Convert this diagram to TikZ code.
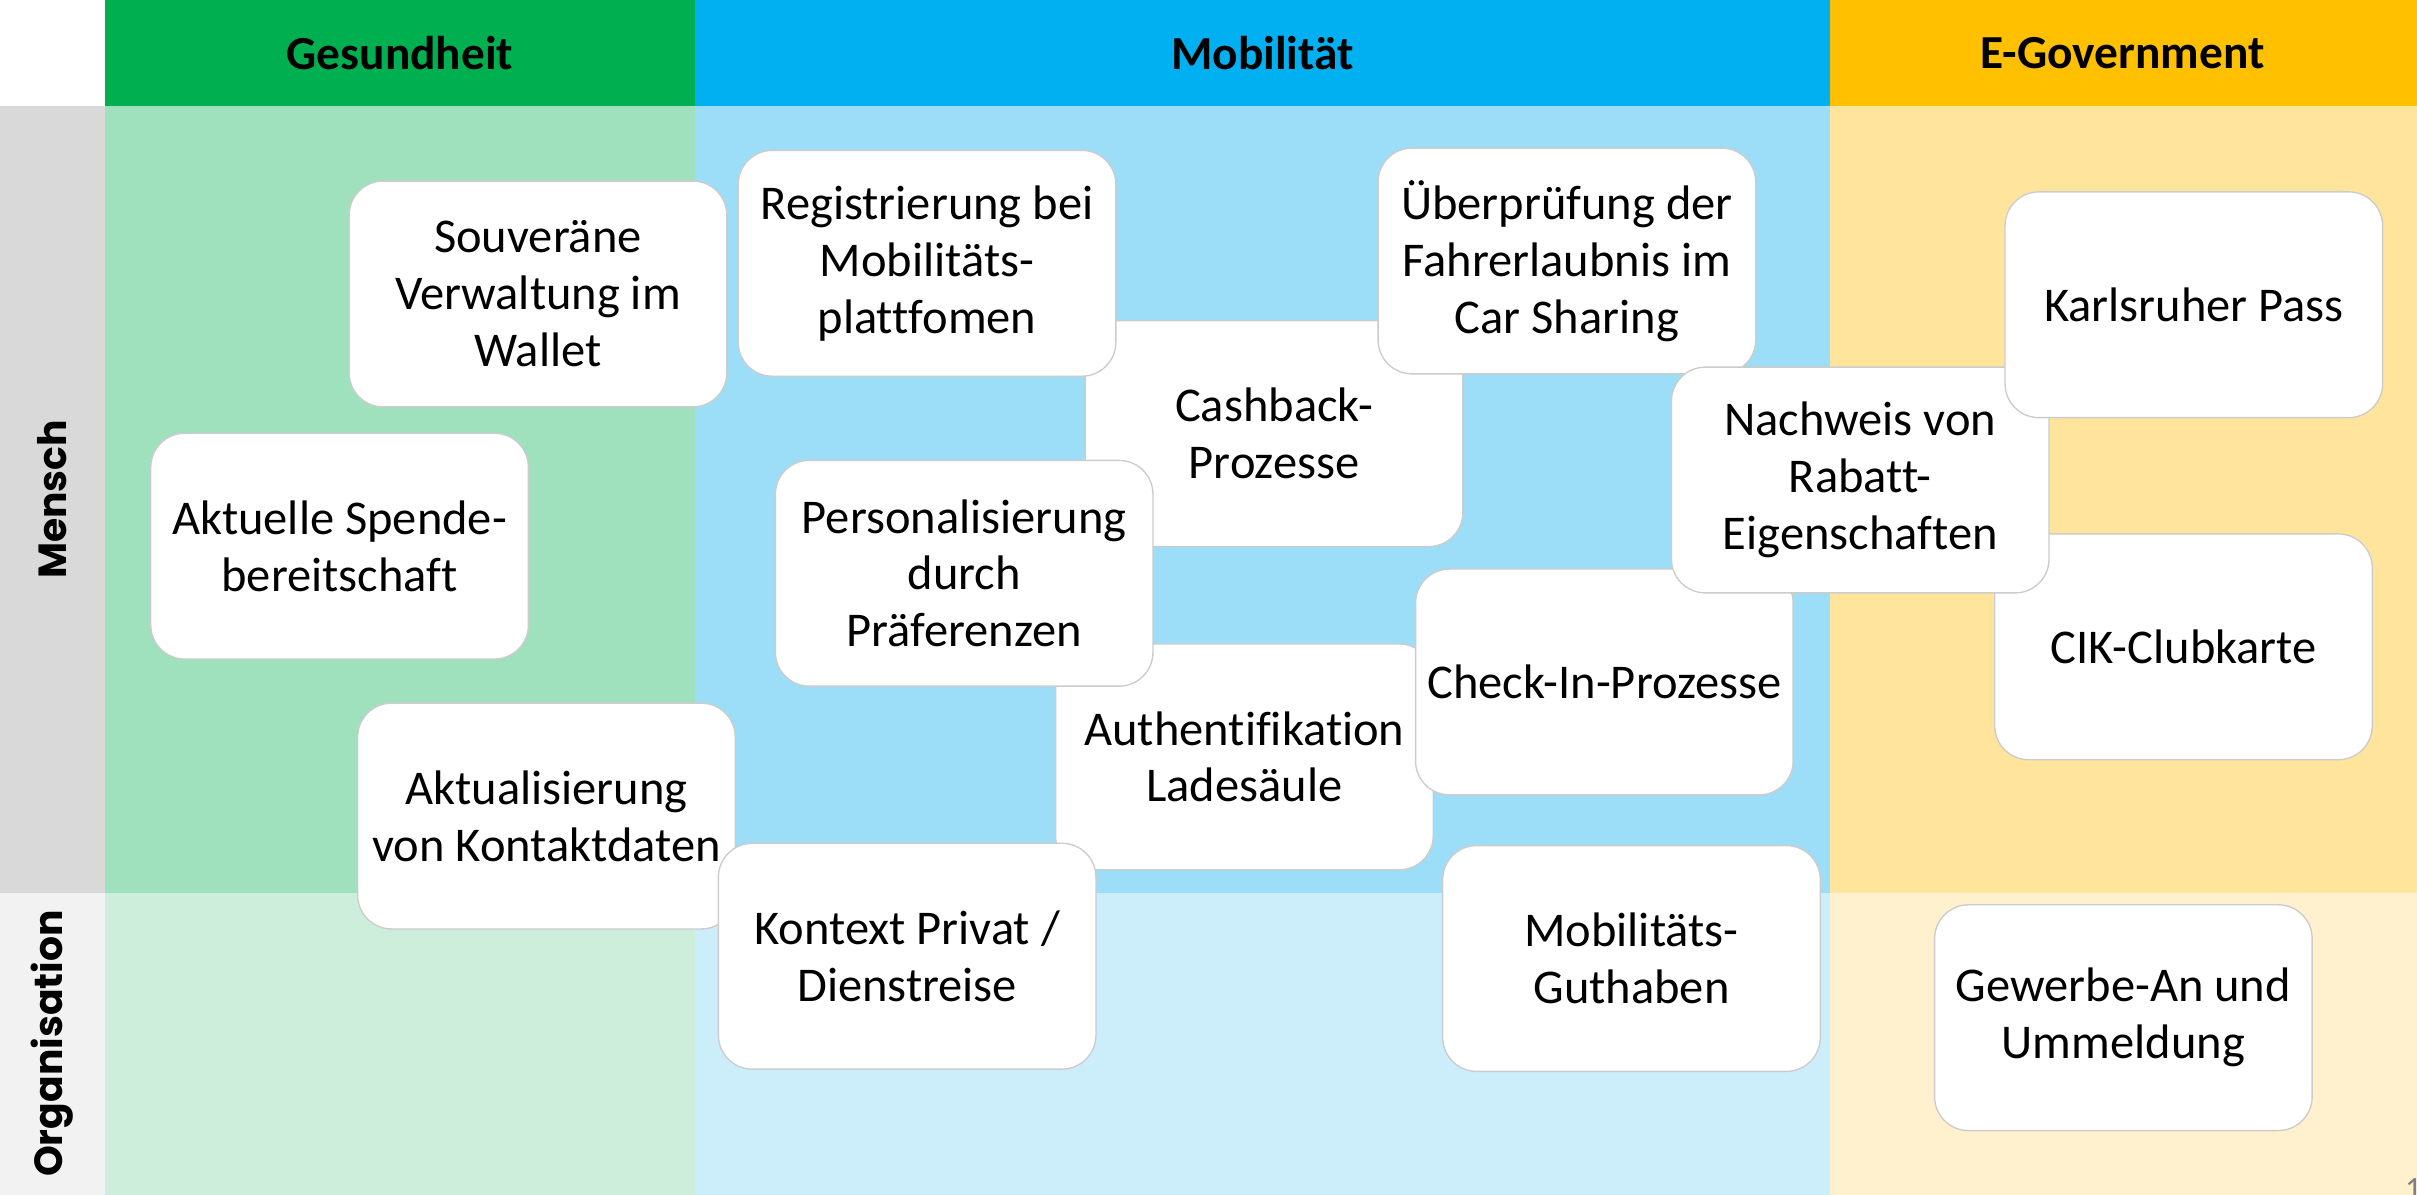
\documentclass[tikz,border=0pt]{standalone}
\usepackage{fontspec}
\setmainfont{Carlito}[Ligatures={TeX,NoCommon}]
\newfontfamily\rowfont{Poppins}
\usepackage{tikz}
\usepackage{xcolor}
\definecolor{gesHead}{HTML}{00B050}
\definecolor{mobHead}{HTML}{00B0F0}
\definecolor{govHead}{HTML}{FFC000}
\definecolor{gesMensch}{HTML}{9FE0BD}
\definecolor{mobMensch}{HTML}{9CDEF8}
\definecolor{govMensch}{HTML}{FFE59B}
\definecolor{gesOrga}{HTML}{CEEEDC}
\definecolor{mobOrga}{HTML}{CCEDFA}
\definecolor{govOrga}{HTML}{FFF1CD}
\definecolor{menschLabel}{HTML}{D9D9D9}
\definecolor{orgaLabel}{HTML}{F2F2F2}
\tikzset{%
	usecase/.style={
		rectangle,
		rounded corners=0.44cm,
		draw=black!20,
		line width=0.5pt,
		fill=white,
		minimum width=4.9cm,
		minimum height=2.93cm,
		align=center,
		font=\fontsize{17.9}{21}\selectfont
	},
	header/.style={
		font=\fontsize{17.5}{21}\selectfont\bfseries
	},
	rowlabel/.style={
		rotate=90,
		font=\rowfont\fontsize{14.5}{17}\selectfont\bfseries
	},
}

\begin{document}
\begin{tikzpicture}[x=0.02cm, y=-0.02cm]
	\useasboundingbox (0,0) rectangle (1568,775);
	\clip (0,0) rectangle (1568,775);
	
	% Kopfzeile
	\fill[white] (0,0) rectangle (68,69);
	\fill[gesHead] (68,0) rectangle (451,69);
	\fill[mobHead] (451,0) rectangle (1187,69);
	\fill[govHead] (1187,0) rectangle (1568,69);
	% Zeile Mensch
	\fill[menschLabel] (0,69) rectangle (68,579);
	\fill[gesMensch] (68,69) rectangle (451,579);
	\fill[mobMensch] (451,69) rectangle (1187,579);
	\fill[govMensch] (1187,69) rectangle (1568,579);
	% Zeile Organisation
	\fill[orgaLabel] (0,579) rectangle (68,775);
	\fill[gesOrga] (68,579) rectangle (451,775);
	\fill[mobOrga] (451,579) rectangle (1187,775);
	\fill[govOrga] (1187,579) rectangle (1568,775);
	
	\node[header] (gesundheit) at (259.5,34.5) {Gesundheit};
	\node[header] (mobilitaet) at (819,34.5) {Mobilität};
	\node[header] (egov) at (1377,34.5) {E-Government};
	
	\node[rowlabel] (mensch) at (34,324) {Mensch};
	\node[rowlabel] (organisation) at (34,677) {Organisation};
	
	\node[usecase] (cashback) at (826.5,281.3) {Cashback-\\Prozesse};
	\node[usecase] (registrierung) at (601.4,170.8) {Registrierung bei\\Mobilitäts-\\plattfomen};
	\node[usecase] (fahrerlaubnis) at (1016.5,169.3) {Überprüfung der\\Fahrerlaubnis im\\Car Sharing};
	\node[usecase] (ladesaeule) at (807.3,491) {Authentifikation\\Ladesäule};
	\node[usecase] (praeferenzen) at (625.5,371.9) {Personalisierung\\durch\\Präferenzen};
	\node[usecase] (checkin) at (1040.8,442.4) {Check-In-Prozesse};
	\node[usecase] (clubkarte) at (1416.5,419.6) {CIK-Clubkarte};
	\node[usecase] (rabatt) at (1206.8,311.4) {Nachweis von\\Rabatt-\\Eigenschaften};
	\node[usecase] (karlsruhe) at (1423.2,197.7) {Karlsruher Pass};
	\node[usecase] (wallet) at (349,190.7) {Souveräne\\Verwaltung im\\Wallet};
	\node[usecase] (spende) at (220.3,354.3) {Aktuelle Spende-\\bereitschaft};
	\node[usecase] (kontaktdaten) at (354.5,529.4) {Aktualisierung\\von Kontaktdaten};
	\node[usecase] (dienstreise) at (588.5,620.3) {Kontext Privat /\\Dienstreise};
	\node[usecase] (guthaben) at (1058.4,621.8) {Mobilitäts-\\Guthaben};
	\node[usecase] (gewerbe) at (1377.5,660.2) {Gewerbe-An und\\Ummeldung};
	
	\node[anchor=north west, inner sep=0pt, text=black!50, font=\fontsize{12}{14}\selectfont] (seite) at (1560,764) {1};
	
\end{tikzpicture}
\end{document}
